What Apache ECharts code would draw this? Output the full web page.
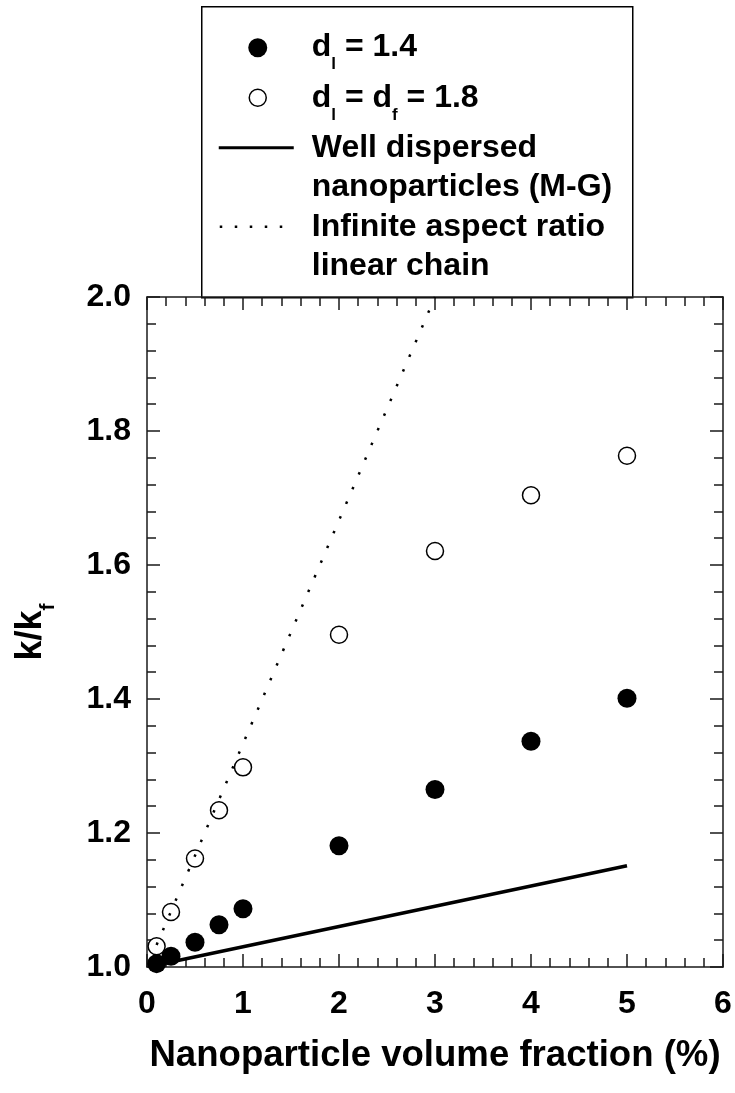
<!DOCTYPE html>
<html>
<head>
<meta charset="utf-8">
<script src="https://cdn.jsdelivr.net/npm/echarts@6/dist/echarts.min.js"></script>
<style>
  html, body { margin: 0; padding: 0; background: #fff; }
  #chart { width: 735px; height: 1093px; }
</style>
</head>
<body>
<div id="chart"></div>
<script>
// d_l = 1.4 (filled circles)
const fracFilled = [0.1, 0.25, 0.5, 0.75, 1, 2, 3, 4, 5]
const kFilled = [1.005, 1.016, 1.037, 1.063, 1.087, 1.181, 1.265, 1.337, 1.401]
// d_l = d_f = 1.8 (open circles)
const fracOpen = [0.1, 0.25, 0.5, 0.75, 1, 2, 3, 4, 5]
const kOpen = [1.031, 1.082, 1.162, 1.234, 1.298, 1.496, 1.621, 1.704, 1.763]
// well dispersed (M-G)
const fracMG = [0.1, 5]
const kMG = [1.003, 1.151]
// infinite aspect ratio linear chain
const fracChain = [0.1, 3]
const kChain = [1.033, 2.0]

const xTicks = [0, 1, 2, 3, 4, 5, 6]
const yTicks = [1.0, 1.2, 1.4, 1.6, 1.8, 2.0]

const FONT = 'Liberation Sans, Arial, sans-serif'
const pairs = (xs, ys) => xs.map((x, i) => [x, ys[i]])

const chart = echarts.init(document.getElementById('chart'))

const baseAxis = {
  axisLine: { show: true, onZero: false, lineStyle: { color: '#1a1a1a', width: 1.5 } },
  axisTick: { show: true, inside: true, length: 13, lineStyle: { color: '#1a1a1a', width: 1.5 } },
  minorTick: { show: true, splitNumber: 5, length: 9, lineStyle: { color: '#1a1a1a', width: 1.5 } },
  splitLine: { show: false }
}

const legendText = {
  b: { fontSize: 32, fontWeight: 'bold', fontFamily: FONT, color: '#000', lineHeight: 32, padding: [0, 0, 10, 0], verticalAlign: 'bottom' },
  s: { fontSize: 17, fontWeight: 'bold', fontFamily: FONT, color: '#000', lineHeight: 17, verticalAlign: 'bottom' }
}

const option = {
  animation: false,
  backgroundColor: '#fff',
  grid: { left: 147, right: 12, top: 297, bottom: 126 },
  xAxis: [
    Object.assign({}, baseAxis, {
      type: 'value', min: 0, max: 6, interval: 1, position: 'bottom',
      axisLabel: {
        margin: 21, fontSize: 32, fontWeight: 'bold', fontFamily: FONT, color: '#000',
        formatter: v => xTicks.includes(v) ? String(v) : ''
      },
      name: 'Nanoparticle volume fraction (%)', nameLocation: 'middle', nameGap: 70,
      nameTextStyle: { fontSize: 36.6, fontWeight: 'bold', fontFamily: FONT, color: '#000' }
    }),
    Object.assign({}, baseAxis, {
      type: 'value', min: 0, max: 6, interval: 1, position: 'top',
      axisLabel: { show: false }
    })
  ],
  yAxis: [
    Object.assign({}, baseAxis, {
      type: 'value', min: 1.0, max: 2.0, interval: 0.2, position: 'left',
      axisLabel: {
        margin: 16, fontSize: 32, fontWeight: 'bold', fontFamily: FONT, color: '#000',
        formatter: v => v.toFixed(1)
      },
      name: '{a|k/k}{s|f}', nameLocation: 'middle', nameGap: 88,
      nameTextStyle: {
        rich: {
          a: { fontSize: 36, fontWeight: 'bold', fontFamily: FONT, color: '#000', lineHeight: 36, padding: [0, 0, 10, 0], verticalAlign: 'bottom' },
          s: { fontSize: 21, fontWeight: 'bold', fontFamily: FONT, color: '#000', lineHeight: 21, verticalAlign: 'bottom' }
        }
      }
    }),
    Object.assign({}, baseAxis, {
      type: 'value', min: 1.0, max: 2.0, interval: 0.2, position: 'right',
      axisLabel: { show: false }
    })
  ],
  series: [
    {
      name: 'Well dispersed nanoparticles (M-G)',
      type: 'line',
      data: pairs(fracMG, kMG),
      symbol: 'none',
      lineStyle: { color: '#000', width: 3.5 },
      z: 2
    },
    {
      name: 'd_l = 1.4',
      type: 'scatter',
      data: pairs(fracFilled, kFilled),
      symbol: 'circle',
      symbolSize: 19,
      itemStyle: { color: '#000', opacity: 1 },
      z: 3
    },
    {
      name: 'd_l = d_f = 1.8',
      type: 'scatter',
      data: pairs(fracOpen, kOpen),
      symbol: 'circle',
      symbolSize: 17,
      itemStyle: { color: '#fff', borderColor: '#000', borderWidth: 1.5, opacity: 1 },
      z: 3
    },
    {
      name: 'Infinite aspect ratio linear chain',
      type: 'line',
      data: pairs(fracChain, kChain),
      symbol: 'none',
      lineStyle: { color: '#000', width: 2.5, type: [2.5, 13.5] },
      z: 4
    }
  ],
  graphic: [
    {
      type: 'group', left: 201, top: 6, z: 100,
      children: [
        { type: 'rect', shape: { x: 0, y: 0, width: 431, height: 291 }, style: { fill: '#fff', stroke: '#000', lineWidth: 1.5 } },
        { type: 'circle', shape: { cx: 56, cy: 41, r: 9.5 }, style: { fill: '#000' } },
        { type: 'circle', shape: { cx: 56, cy: 91, r: 8.5 }, style: { fill: '#fff', stroke: '#000', lineWidth: 1.5 } },
        { type: 'line', shape: { x1: 17, y1: 141, x2: 92, y2: 141 }, style: { stroke: '#000', lineWidth: 3 } },
        { type: 'line', shape: { x1: 18, y1: 220, x2: 92, y2: 220 }, style: { stroke: '#000', lineWidth: 2.5, lineDash: [2.5, 12.5] } },
        { type: 'text', x: 110, y: 34, style: { text: '{b|d}{s|l}{b| = 1.4}', rich: legendText } },
        { type: 'text', x: 110, y: 85, style: { text: '{b|d}{s|l}{b| = d}{s|f}{b| = 1.8}', rich: legendText } },
        { type: 'text', x: 110, y: 122, style: { text: 'Well dispersed\nnanoparticles (M-G)', font: 'bold 32px ' + FONT, fill: '#000', lineHeight: 39 } },
        { type: 'text', x: 110, y: 201, style: { text: 'Infinite aspect ratio\nlinear chain', font: 'bold 32px ' + FONT, fill: '#000', lineHeight: 39 } }
      ]
    }
  ]
}

chart.setOption(option)
window.addEventListener('resize', () => chart.resize())
</script>
</body>
</html>
